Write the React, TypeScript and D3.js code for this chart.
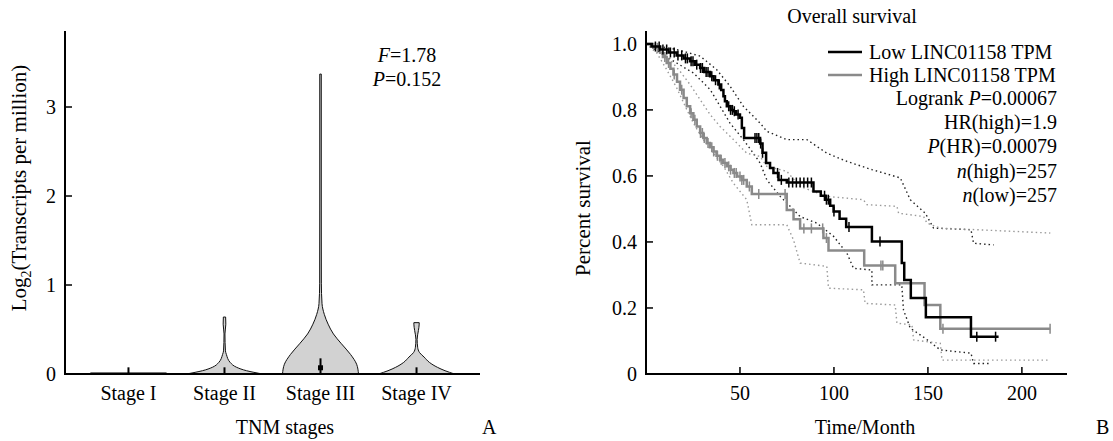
import React from "react";
import * as d3 from "d3";

// ---- panel A: violin data (value, relative half-width) ----
const stages = ["Stage I", "Stage II", "Stage III", "Stage IV"];
const violinShapes: number[][][] = [
  [[0, 1], [0.012, 1]],
  [[0, 1], [0.037, 0.58], [0.075, 0.32], [0.13, 0.15], [0.22, 0.05], [0.26, 0.025], [0.45, 0.012], [0.56, 0.035], [0.64, 0.03]],
  [[0, 1], [0.11, 0.95], [0.22, 0.79], [0.34, 0.55], [0.45, 0.34], [0.56, 0.2], [0.67, 0.1], [0.79, 0.04], [1.02, 0.022], [2, 0.02], [3.37, 0.02]],
  [[0, 1], [0.037, 0.75], [0.075, 0.55], [0.13, 0.34], [0.19, 0.2], [0.24, 0.08], [0.3, 0.03], [0.39, 0.016], [0.49, 0.05], [0.56, 0.07], [0.577, 0.07]],
];
const medianTop = [0.075, 0.075, 0.176, 0.075];
const meanPoint = [null, null, 0.07, null];
const yTicksA = [0, 1, 2, 3];

// ---- panel B: Kaplan-Meier (time in months, survival) ----
const lowSteps = [
  [0, 1], [3, 0.992], [7.5, 0.983], [12, 0.974], [16.3, 0.965], [20, 0.956], [23.4, 0.947], [26, 0.937],
  [28.8, 0.927], [31, 0.915], [34.1, 0.902], [36, 0.89], [38.5, 0.877], [40, 0.86], [41.2, 0.841], [42, 0.826],
  [43, 0.811], [45, 0.8], [46.5, 0.796], [48, 0.786], [50, 0.776], [51, 0.745], [52.2, 0.715], [60.7, 0.698],
  [62, 0.67], [63.9, 0.639], [66, 0.624], [67.8, 0.609], [70.5, 0.588], [74.9, 0.58], [89.1, 0.553], [93, 0.54],
  [95.3, 0.528], [98, 0.51], [99.8, 0.492], [103, 0.47], [106.5, 0.445], [120.2, 0.401], [136.1, 0.336],
  [137.4, 0.285], [140.9, 0.23], [148.9, 0.172], [172.9, 0.113], [187.6, 0.113],
];
const highSteps = [
  [0, 1], [3.9, 0.988], [7.5, 0.973], [9, 0.96], [11, 0.942], [13, 0.925], [14.6, 0.907], [16.5, 0.885],
  [18.1, 0.861], [20, 0.836], [21.7, 0.811], [23.5, 0.79], [25.2, 0.77], [27, 0.75], [28.8, 0.73], [30.5, 0.715],
  [32.3, 0.7], [34, 0.687], [35.9, 0.674], [37.5, 0.661], [39.4, 0.649], [41, 0.639], [43, 0.629], [45, 0.619],
  [46.5, 0.609], [48.5, 0.598], [50.9, 0.588], [53.6, 0.568], [56.3, 0.545], [74.9, 0.497], [78.5, 0.469],
  [82, 0.441], [94.4, 0.412], [97.1, 0.374], [116.1, 0.329], [132.6, 0.275], [148.2, 0.209], [156.6, 0.137],
  [215.1, 0.137],
];
const lowCensor = [5, 7, 9, 11, 13, 15, 17, 19, 21, 22, 24, 25, 27, 29, 30, 32, 33, 35, 37, 39, 44, 45, 46, 47, 49,
  58, 59, 60, 61, 62, 70, 72, 76, 78, 80, 82, 84, 86, 88, 95, 96, 97, 100, 108, 124.5, 176, 186];
const highCensor = [6, 10, 12, 15, 19, 24, 26, 29, 30, 31, 33, 35, 36, 38, 40, 42, 44, 45, 47, 48, 50, 51, 52, 55,
  60, 74, 84, 88, 94, 96, 125, 126, 158, 215];
const lowUpper = [[0, 1], [16.3, 0.983], [28.8, 0.963], [37.6, 0.922], [44.7, 0.872], [51.8, 0.811], [60.7, 0.76],
  [64.3, 0.735], [74.9, 0.71], [85.6, 0.71], [96.2, 0.669], [106.9, 0.644], [120.2, 0.619], [135.3, 0.594],
  [140.6, 0.528], [148.6, 0.487], [153, 0.442], [172.9, 0.437], [174.3, 0.396], [185, 0.391]];
const lowLower = [[0, 1], [7.5, 0.973], [16.3, 0.942], [25.2, 0.912], [34.1, 0.862], [39.4, 0.811], [44.7, 0.76],
  [51.8, 0.71], [57.1, 0.669], [60.7, 0.639], [64.3, 0.588], [71.4, 0.538], [76.7, 0.508], [82, 0.477],
  [90.9, 0.457], [99.8, 0.417], [106.9, 0.366], [110.4, 0.32], [120.2, 0.315], [120.2, 0.27], [136.1, 0.27],
  [137, 0.194], [140.6, 0.139], [148.6, 0.108], [156.6, 0.073], [172.9, 0.063], [174.3, 0.032], [183.2, 0.032]];
const highUpper = [[0, 1], [7.5, 0.983], [12.8, 0.952], [18.1, 0.917], [23.4, 0.877], [28.8, 0.831], [34.1, 0.786],
  [39.4, 0.75], [46.5, 0.71], [53.6, 0.669], [60.7, 0.659], [64.3, 0.629], [74.9, 0.614], [82, 0.568],
  [96.2, 0.538], [115.7, 0.528], [117.5, 0.513], [133.5, 0.508], [134.4, 0.487], [147.7, 0.477], [149.5, 0.457],
  [156.6, 0.442], [215.1, 0.427]];
const highLower = [[0, 1], [5.7, 0.973], [11, 0.922], [16.3, 0.867], [21.7, 0.801], [25.2, 0.76], [30.5, 0.71],
  [35.9, 0.669], [41.2, 0.629], [46.5, 0.578], [53.6, 0.528], [56.3, 0.452], [74.9, 0.452], [78.5, 0.406],
  [82, 0.336], [96.2, 0.326], [97.1, 0.26], [115.7, 0.255], [116.6, 0.214], [132.6, 0.209], [133.5, 0.154],
  [141.5, 0.149], [142.4, 0.103], [156.6, 0.093], [157.5, 0.042], [215.1, 0.042]];
const xTicksB = [50, 100, 150, 200];
const yTicksB = [0, 0.2, 0.4, 0.6, 0.8, 1.0];

const FONT = "'Liberation Serif', 'Times New Roman', serif";
const GRAY = "#8a8a8a";

function survAt(steps: number[][], t: number) {
  let v = steps[0][1];
  for (const s of steps) if (s[0] <= t) v = s[1];
  return v;
}

export default function App() {
  // panel A scales
  const xA = d3.scalePoint().domain(stages).range([65, 480]).padding(0.661);
  const yA = d3.scaleLinear().domain([0, 3.854]).range([374, 31]);
  const halfW = 38;

  // panel B scales
  const xB = d3.scaleLinear().domain([0, 224]).range([646, 1067]);
  const yB = d3.scaleLinear().domain([0, 1.039]).range([374, 31]);

  const step = d3.line<number[]>().x((d) => xB(d[0])).y((d) => yB(d[1])).curve(d3.curveStepAfter);
  const poly = d3.line<number[]>().x((d) => xB(d[0])).y((d) => yB(d[1]));

  const legendStats: [string, string, string][] = [
    ["Logrank ", "P", "=0.00067"],
    ["HR(high)=1.9", "", ""],
    ["", "P", "(HR)=0.00079"],
    ["", "n", "(high)=257"],
    ["", "n", "(low)=257"],
  ];

  return (
    <svg width={1113} height={441} style={{ position: "absolute", left: 0, top: 0, background: "#fff" }}
      fontFamily={FONT} fontSize={20}>
      {/* ---------- Panel A ---------- */}
      {stages.map((s, i) => {
        const cx = xA(s) as number;
        const area = d3.area<number[]>()
          .y((d) => yA(d[0]))
          .x0((d) => cx - halfW * d[1])
          .x1((d) => cx + halfW * d[1])
          .curve(d3.curveMonotoneY);
        return (
          <g key={s}>
            <path d={area(violinShapes[i]) || ""} fill="#d2d2d2" stroke="#111" strokeWidth={1} />
            <line x1={cx} x2={cx} y1={yA(0)} y2={yA(medianTop[i])} stroke="#000" strokeWidth={2} />
            {meanPoint[i] != null && (
              <rect x={cx - 2.5} y={yA(meanPoint[i] as number) - 2.5} width={5} height={5} fill="#000" />
            )}
            <text x={cx} y={400} textAnchor="middle">{s}</text>
          </g>
        );
      })}
      <line x1={65} x2={65} y1={yA.range()[1]} y2={375} stroke="#000" strokeWidth={2} />
      <line x1={64} x2={480} y1={374} y2={374} stroke="#000" strokeWidth={2} />
      {yTicksA.map((t) => (
        <g key={t}>
          <line x1={65} x2={72} y1={yA(t)} y2={yA(t)} stroke="#000" strokeWidth={1.5} />
          <text x={56} y={yA(t)} dy="0.35em" textAnchor="end">{t}</text>
        </g>
      ))}
      <text transform="translate(26,188) rotate(-90)" textAnchor="middle" fontSize={21}>
        Log<tspan fontSize={14} dy={5}>2</tspan><tspan dy={-5}>(Transcripts per million)</tspan>
      </text>
      <text x={285} y={434} textAnchor="middle">TNM stages</text>
      <text x={482} y={434}>A</text>
      <text x={407} y={62} textAnchor="middle"><tspan fontStyle="italic">F</tspan>=1.78</text>
      <text x={407} y={86} textAnchor="middle"><tspan fontStyle="italic">P</tspan>=0.152</text>

      {/* ---------- Panel B ---------- */}
      <path d={poly(lowUpper) || ""} fill="none" stroke="#222" strokeWidth={1.4} strokeDasharray="1.5,3" />
      <path d={poly(lowLower) || ""} fill="none" stroke="#222" strokeWidth={1.4} strokeDasharray="1.5,3" />
      <path d={poly(highUpper) || ""} fill="none" stroke="#9a9a9a" strokeWidth={1.4} strokeDasharray="1.5,3" />
      <path d={poly(highLower) || ""} fill="none" stroke="#9a9a9a" strokeWidth={1.4} strokeDasharray="1.5,3" />
      <path d={step(highSteps) || ""} fill="none" stroke={GRAY} strokeWidth={2.5} />
      {highCensor.map((t, i) => (
        <line key={"hc" + i} x1={xB(t)} x2={xB(t)} y1={yB(survAt(highSteps, t)) - 5} y2={yB(survAt(highSteps, t)) + 5}
          stroke={GRAY} strokeWidth={1.5} />
      ))}
      <path d={step(lowSteps) || ""} fill="none" stroke="#000" strokeWidth={2.5} />
      {lowCensor.map((t, i) => (
        <line key={"lc" + i} x1={xB(t)} x2={xB(t)} y1={yB(survAt(lowSteps, t)) - 5} y2={yB(survAt(lowSteps, t)) + 5}
          stroke="#000" strokeWidth={1.5} />
      ))}

      <line x1={646} x2={646} y1={31} y2={375} stroke="#000" strokeWidth={2} />
      <line x1={645} x2={1067} y1={374} y2={374} stroke="#000" strokeWidth={2} />
      {yTicksB.map((t) => (
        <g key={t}>
          <line x1={646} x2={653} y1={yB(t)} y2={yB(t)} stroke="#000" strokeWidth={1.5} />
          <text x={637} y={yB(t)} dy="0.35em" textAnchor="end">{t === 0 ? "0" : d3.format(".1f")(t)}</text>
        </g>
      ))}
      {xTicksB.map((t) => (
        <g key={t}>
          <line x1={xB(t)} x2={xB(t)} y1={374} y2={367} stroke="#000" strokeWidth={1.5} />
          <text x={xB(t)} y={400} textAnchor="middle">{t}</text>
        </g>
      ))}
      <text transform="translate(590,208) rotate(-90)" textAnchor="middle" fontSize={21}>Percent survival</text>
      <text x={865} y={434} textAnchor="middle">Time/Month</text>
      <text x={1096} y={434}>B</text>
      <text x={852} y={23} textAnchor="middle">Overall survival</text>

      {/* legend */}
      <line x1={828} x2={862} y1={52} y2={52} stroke="#000" strokeWidth={2.5} />
      <text x={869} y={59}>Low LINC01158 TPM</text>
      <line x1={828} x2={862} y1={75} y2={75} stroke={GRAY} strokeWidth={2.5} />
      <text x={869} y={82}>High LINC01158 TPM</text>
      {legendStats.map((r, i) => (
        <text key={i} x={1057} y={105 + i * 24.2} textAnchor="end">
          {r[0]}{r[1] && <tspan fontStyle="italic">{r[1]}</tspan>}{r[2]}
        </text>
      ))}
    </svg>
  );
}
